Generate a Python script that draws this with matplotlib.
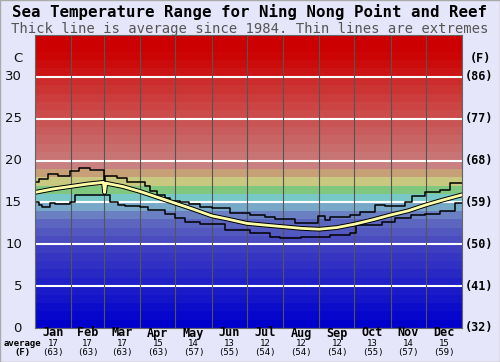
import matplotlib

matplotlib.use("Agg")
import matplotlib.pyplot as plt
from matplotlib.patches import Rectangle

# month layout
months = ["Jan", "Feb", "Mar", "Apr", "May", "Jun", "Jul", "Aug", "Sep", "Oct", "Nov", "Dec"]
month_starts = [0, 31, 59, 90, 120, 151, 181, 212, 243, 273, 304, 334, 365]
month_avg_c = [17, 17, 17, 15, 14, 13, 12, 12, 12, 13, 14, 15]
month_avg_f = [63, 63, 63, 63, 57, 55, 54, 54, 54, 55, 57, 59]

# average temperature (day of year, deg C)
avg_days = [0, 15, 30, 45, 58.5, 59.5, 60.5, 75, 90, 105, 120, 135, 151, 165, 181,
            196, 212, 228, 243, 258, 273, 288, 304, 319, 334, 349, 365]
avg_vals = [16.2, 16.6, 16.9, 17.2, 17.4, 16.2, 17.3, 16.9, 16.3, 15.6, 14.9, 14.2, 13.4, 13.0, 12.5,
            12.3, 12.1, 11.9, 11.8, 12.0, 12.4, 12.9, 13.5, 14.0, 14.7, 15.3, 15.9]

# highest recorded (step start day, deg C)
max_days = [0, 3, 11, 20, 30, 38, 47, 59, 60, 70, 79, 94, 98, 104, 111, 115, 124, 132, 141,
            151, 167, 184, 197, 205, 222, 242, 248, 252, 269, 278, 291, 299, 316, 322, 333,
            346, 355]
max_vals = [17.4, 17.8, 18.4, 18.2, 18.8, 19.1, 18.9, 16.2, 18.2, 17.9, 17.5, 17.0, 16.4, 15.9,
            15.5, 15.2, 15.1, 14.8, 14.5, 14.3, 13.7, 13.5, 13.2, 13.0, 12.5, 13.4, 12.9, 13.3,
            13.5, 13.9, 14.7, 14.6, 15.0, 15.8, 16.2, 16.5, 17.3]

# lowest recorded (step start day, deg C)
min_days = [0, 3, 6, 13, 17, 30, 34, 64, 71, 77, 90, 97, 111, 120, 128, 141, 162, 184, 201,
            209, 227, 252, 269, 274, 297, 308, 321, 333, 346, 359]
min_vals = [15.1, 14.7, 14.4, 14.9, 14.8, 15.1, 15.9, 15.1, 14.7, 14.6, 14.5, 14.1, 13.6, 13.1,
            12.7, 12.4, 11.7, 11.3, 10.9, 10.75, 10.9, 11.1, 11.3, 12.3, 12.7, 13.1, 13.5, 13.6,
            14.0, 14.9]

c_ticks = [0, 5, 10, 15, 20, 25, 30]
f_labels = ["(32)", "(41)", "(50)", "(59)", "(68)", "(77)", "(86)"]

# one colour per degree band, 0-35 C
band_colors = [
    "#0000cc", "#0606cc", "#0c0ccb", "#1414c9", "#1a1ac8", "#2020c6", "#2828c5", "#3030c4",
    "#3636c3", "#3e3ec2", "#4a4cc0", "#5258c0", "#5c66c0", "#6a80c2", "#78a8c8", "#78c8c8",
    "#80c880", "#c8c880", "#c8a078", "#c88080", "#c87474", "#c86c6c", "#c86464", "#c85c5c",
    "#c85454", "#cc4c4c", "#cc4444", "#cc3c3c", "#cc3434", "#cc2c2c", "#cc1414", "#cc0c0c",
    "#cc0404", "#cc0000", "#cc0000",
]

W, H = 500, 362
fig = plt.figure(figsize=(W / 100, H / 100), dpi=100, facecolor="#e6e6fa")
ax = fig.add_axes([35 / W, 1 - 328 / H, 427 / W, 293 / H])
ax.set_xlim(0, 365)
ax.set_ylim(0, 35)

for i, c in enumerate(band_colors):
    ax.axhspan(i, i + 1, color=c, lw=0)
for t in c_ticks[1:]:
    ax.axhline(t, color="white", lw=1.5)
for d in month_starts:
    ax.axvline(d, color="#555555", lw=0.8)

ax.step(max_days + [365], max_vals + [max_vals[-1]], where="post", color="black", lw=1.1)
ax.step(min_days + [365], min_vals + [min_vals[-1]], where="post", color="black", lw=1.1)
ax.plot(avg_days, avg_vals, color="black", lw=3.4, solid_joinstyle="round")
ax.plot(avg_days, avg_vals, color="#ffffa8", lw=2.0, solid_joinstyle="round")

ax.set_xticks([])
ax.set_yticks([])
for s in ax.spines.values():
    s.set_color("#666666")
    s.set_linewidth(0.8)

mono = "DejaVu Sans Mono"
fig.text(0.5, 1 - 12 / H, "Sea Temperature Range for Ning Nong Point and Reef",
         ha="center", va="center", family=mono, weight="bold", fontsize=11.3)
fig.text(0.5, 1 - 29 / H, "Thick line is average since 1984. Thin lines are extremes",
         ha="center", va="center", family=mono, color="#555555", fontsize=10)

yt = ax.get_yaxis_transform()
for t, f in zip(c_ticks, f_labels):
    ax.text(-13 / 427, t, str(t), transform=yt, ha="right", va="center",
            fontsize=9.5, color="#111111")
    ax.text(1 + 3 / 427, t, f, transform=yt, ha="left", va="center",
            family=mono, weight="bold", fontsize=8.5)
ax.text(-13 / 427, 32.2, "C", transform=yt, ha="right", va="center", fontsize=9.5,
        color="#111111")
ax.text(1 + 18 / 427, 32.2, "(F)", transform=yt, ha="center", va="center",
        family=mono, weight="bold", fontsize=8.5)

xt = ax.get_xaxis_transform()
for i, m in enumerate(months):
    mid = (month_starts[i] + month_starts[i + 1]) / 2
    ax.text(mid, -5 / 293, m, transform=xt, ha="center", va="center",
            family=mono, weight="bold", fontsize=8.5)
    ax.text(mid, -15 / 293, str(month_avg_c[i]), transform=xt, ha="center", va="center",
            family=mono, fontsize=6.5)
    ax.text(mid, -24.5 / 293, f"({month_avg_f[i]})", transform=xt, ha="center",
            va="center", family=mono, fontsize=6.5)
fig.text(22 / W, 1 - 343 / H, "average", ha="center", va="center", family=mono,
         weight="bold", fontsize=6.5)
fig.text(22 / W, 1 - 352.5 / H, "(F)", ha="center", va="center", family=mono,
         weight="bold", fontsize=6.5)

fig.patches.append(Rectangle((0, 0), 1, 1, transform=fig.transFigure, fill=False,
                             edgecolor="#aaaaaa", lw=1))

fig.savefig("out.png", dpi=100, facecolor=fig.get_facecolor())
plt.close(fig)
